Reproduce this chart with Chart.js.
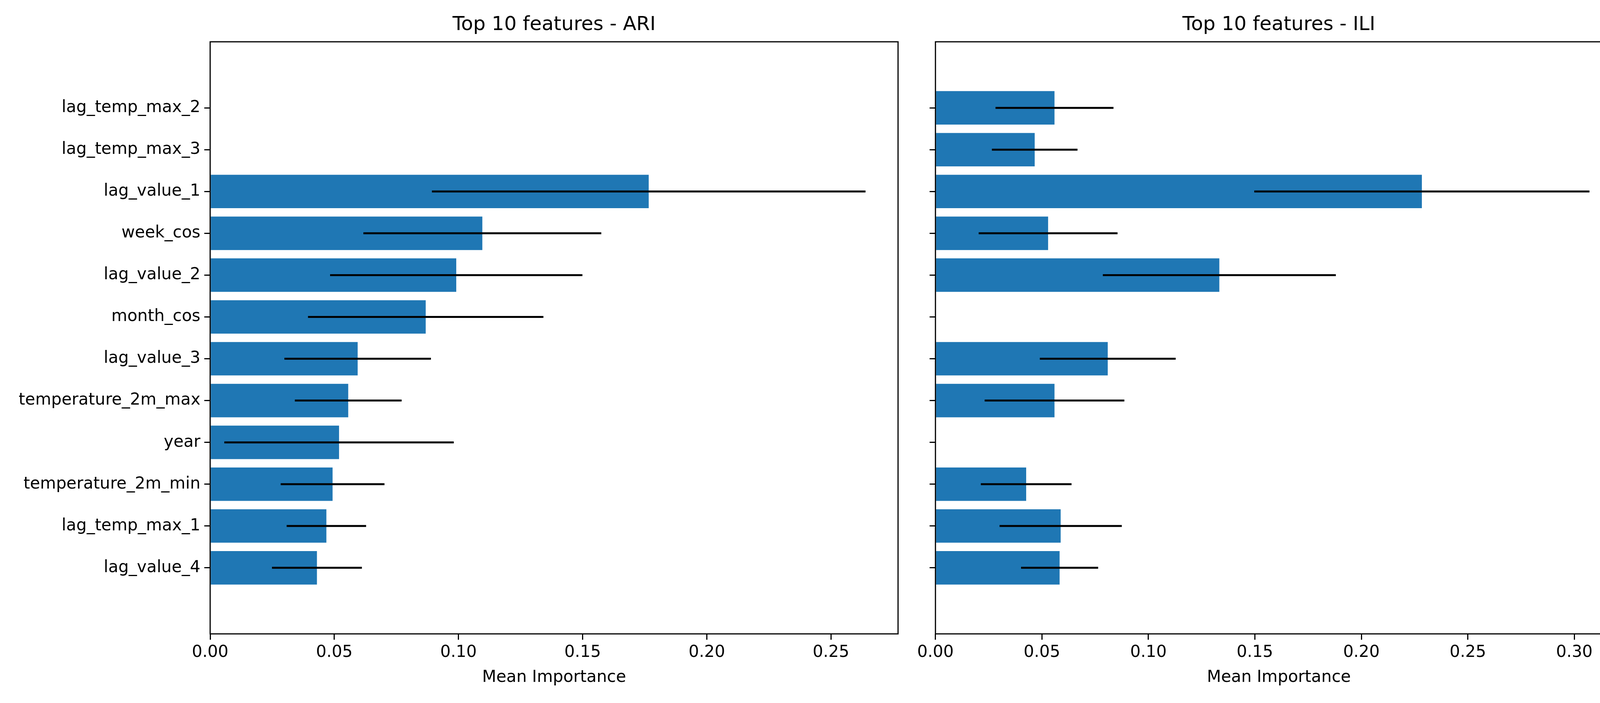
<!DOCTYPE html>
<html>
<head>
<meta charset="utf-8">
<script src="https://cdn.jsdelivr.net/npm/chart.js@4.4.0/dist/chart.umd.min.js"></script>
<style>
  body { margin: 0; background: #fff; }
  canvas { position: absolute; top: 0; }
</style>
</head>
<body>
<canvas id="chart_ari" width="2320" height="1800" style="left:0"></canvas>
<canvas id="chart_ili" width="1860" height="1800" style="left:2340px"></canvas>
<script>
const features = [
  "lag_temp_max_2", "lag_temp_max_3", "lag_value_1", "week_cos", "lag_value_2", "month_cos",
  "lag_value_3", "temperature_2m_max", "year", "temperature_2m_min", "lag_temp_max_1", "lag_value_4",
];
const ariMean = [null, null, 0.1766, 0.1096, 0.0991, 0.0868, 0.0594, 0.0556, 0.0519, 0.0493, 0.0468, 0.0430];
const ariStd = [null, null, 0.0873, 0.0479, 0.0508, 0.0474, 0.0295, 0.0215, 0.0462, 0.0209, 0.0160, 0.0181];
const iliMean = [0.0559, 0.0466, 0.2284, 0.0529, 0.1333, null, 0.0809, 0.0559, null, 0.0426, 0.0588, 0.0583];
const iliStd = [0.0277, 0.0201, 0.0787, 0.0326, 0.0547, null, 0.0319, 0.0328, null, 0.0213, 0.0287, 0.0181];
const xTicks = [0, 0.05, 0.1, 0.15, 0.2, 0.25, 0.3];

Chart.defaults.font.family = "'DejaVu Sans'";
Chart.defaults.color = "#000";
Chart.defaults.devicePixelRatio = 1;

// error bars, axes frame and a title centred over the plot area
const extras = {
  id: "extras",
  afterDatasetsDraw(chart, args, opts) {
    const { ctx, chartArea: a, scales } = chart;
    ctx.save();
    ctx.strokeStyle = "#000";
    ctx.lineWidth = 5;
    opts.mean.forEach((m, i) => {
      if (m == null) return;
      const y = scales.y.getPixelForValue(i);
      ctx.beginPath();
      ctx.moveTo(scales.x.getPixelForValue(m - opts.std[i]), y);
      ctx.lineTo(scales.x.getPixelForValue(m + opts.std[i]), y);
      ctx.stroke();
    });
    ctx.lineWidth = 3;
    ctx.strokeRect(a.left, a.top, a.right - a.left, a.bottom - a.top);
    ctx.fillStyle = "#000";
    ctx.font = "50px 'DejaVu Sans'";
    ctx.textAlign = "center";
    ctx.textBaseline = "middle";
    ctx.fillText(opts.title, (a.left + a.right) / 2, 64);
    ctx.restore();
  },
};

function makeChart(id, title, mean, std, xMax, yWidth, padRight, showLabels) {
  const pts = [];
  mean.forEach((m, i) => { if (m != null) pts.push({ x: m, y: i }); });
  return new Chart(document.getElementById(id), {
    type: "bar",
    data: {
      datasets: [{
        data: pts,
        backgroundColor: "#1f77b4",
        barPercentage: 0.8,
        categoryPercentage: 1,
      }],
    },
    plugins: [extras],
    options: {
      responsive: false,
      animation: false,
      indexAxis: "y",
      layout: { padding: { right: padRight, left: 0, top: 107, bottom: 40 } },
      plugins: {
        legend: { display: false },
        tooltip: { enabled: false },
        title: { display: false },
        extras: { mean, std, title },
      },
      scales: {
        x: {
          type: "linear", min: 0, max: xMax,
          afterBuildTicks: (s) => { s.ticks = xTicks.filter(v => v <= xMax).map(v => ({ value: v })); },
          ticks: { font: { size: 42 }, padding: 8, callback: (v) => v.toFixed(2), maxRotation: 0 },
          grid: { drawOnChartArea: false, offset: false, tickLength: 15, color: "#000", lineWidth: 3 },
          border: { display: false },
          title: { display: true, text: "Mean Importance", font: { size: 42 }, padding: { top: 4, bottom: 0 } },
          afterFit: (s) => { s.height = 137; },
        },
        y: {
          type: "linear", min: -0.99, max: 11.99, reverse: true,
          afterBuildTicks: (s) => { s.ticks = features.map((f, i) => ({ value: i })); },
          ticks: { font: { size: 42 }, padding: 10, display: showLabels, callback: (v) => features[v] },
          grid: { drawOnChartArea: false, offset: false, tickLength: 15, color: "#000", lineWidth: 3 },
          border: { display: false },
          afterFit: (s) => { s.width = yWidth; },
        },
      },
    },
  });
}

makeChart("chart_ari", "Top 10 features - ARI", ariMean, ariStd, 0.277, 538, 21, true);
makeChart("chart_ili", "Top 10 features - ILI", iliMean, iliStd, 0.3225, 50, 47, false);
</script>
</body>
</html>
